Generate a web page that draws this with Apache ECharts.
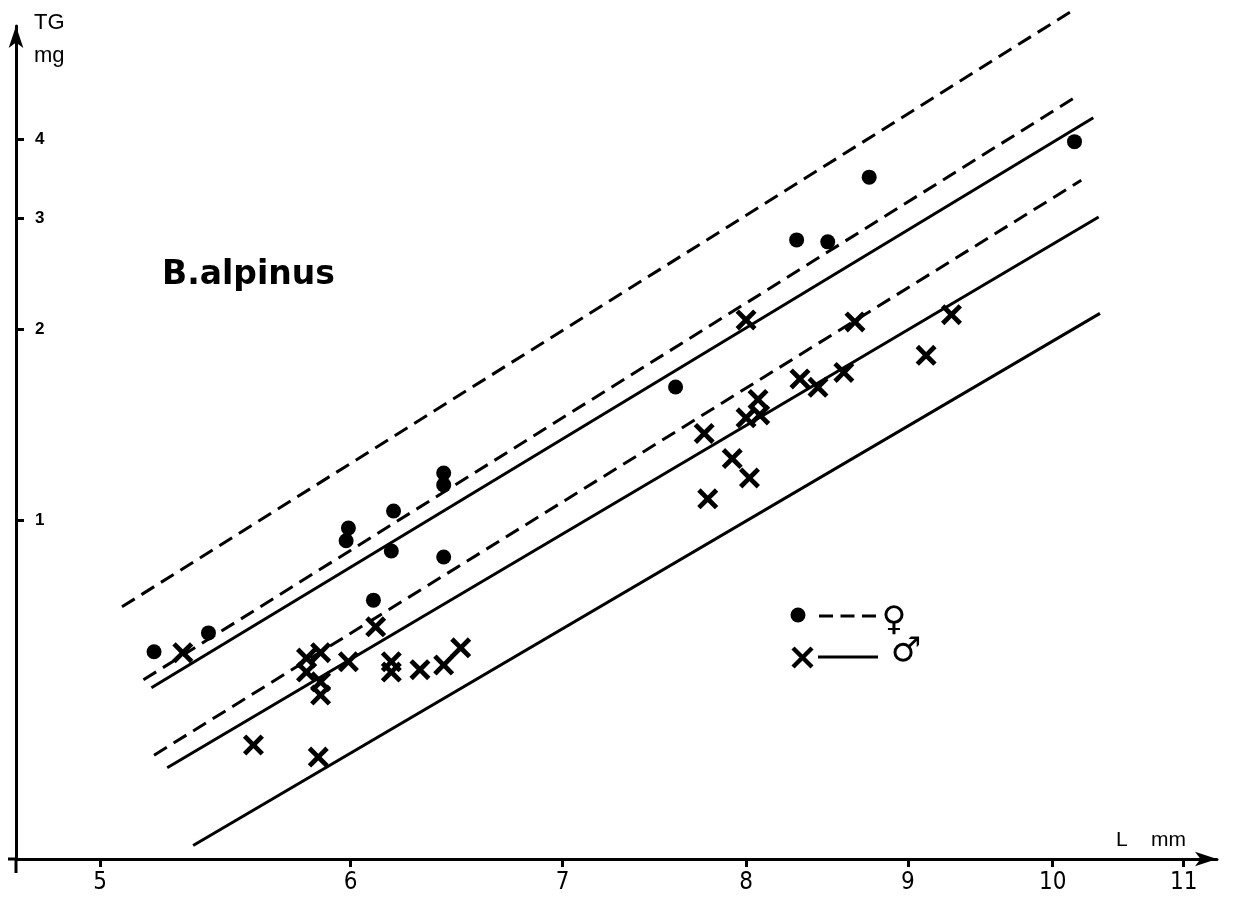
<!DOCTYPE html>
<html>
<head>
    <meta charset="utf-8">
    <title>B. alpinus TG vs L</title>
    <script src="https://cdn.jsdelivr.net/npm/echarts@6.0.0/dist/echarts.min.js"></script>
    <style>
        body { margin: 0; background: #fff; }
        #chart { width: 1235px; height: 904px; }
    </style>
</head>
<body>
    <div id="chart"></div>
    <script>
        // axis ticks (log-log paper)
        const xTicks = [5, 6, 7, 8, 9, 10, 11];
        const yTicks = [1, 2, 3, 4];
        const xRange = [4.703, 11.27];
        const yRange = [0.2913, 6.031];

        // females (dots)
        const femaleL  = [5.20, 5.41, 5.98, 5.99, 6.19, 6.18, 6.10, 6.42, 6.42, 6.42, 7.60, 8.30, 8.49, 8.75, 10.16];
        const femaleTG = [0.619, 0.663, 0.927, 0.971, 1.033, 0.893, 0.747, 1.186, 1.136, 0.874, 1.622, 2.77, 2.75, 3.48, 3.96];

        // males (crosses)
        const maleL  = [5.31, 5.81, 5.87, 5.81, 5.87, 5.87, 5.99, 6.11, 6.18, 6.18, 6.31, 6.42, 6.50, 5.59, 5.86,
                        8.00, 8.66, 9.29, 9.12, 8.59, 8.32, 8.43, 8.07, 8.08, 8.00, 7.76, 7.92, 8.02, 7.78];
        const maleTG = [0.617, 0.605, 0.617, 0.575, 0.555, 0.529, 0.597, 0.678, 0.597, 0.575, 0.580, 0.590, 0.628, 0.441, 0.422,
                        2.07, 2.055, 2.11, 1.82, 1.71, 1.67, 1.62, 1.55, 1.465, 1.45, 1.37, 1.25, 1.165, 1.08];

        // regression line + band ends, [start, end]
        const femaleLinesL  = [[5.08, 10.13], [5.16, 10.17], [5.20, 10.21]];
        const femaleLinesTG = [[0.729, 6.35], [0.559, 4.66], [0.425, 3.44]];
        const maleLinesL    = [[5.19, 10.30], [5.25, 10.34], [5.35, 10.35]];
        const maleLinesTG   = [[0.543, 4.32], [0.406, 3.01], [0.306, 2.12]];

        const lg = Math.log10;
        const pairs = (xs, ys) => xs.map((x, i) => [lg(x), lg(ys[i])]);
        const crossPath = 'path://M0,16 L16,0 L50,34 L84,0 L100,16 L66,50 L100,84 L84,100 L50,66 L16,100 L0,84 L34,50 Z';
        const tickText = v => String(Math.round(Math.pow(10, v)));

        const chart = echarts.init(document.getElementById('chart'));

        const series = [];
        femaleLinesL.forEach((xs, i) => {
            series.push({
                type: 'line', data: pairs(xs, femaleLinesTG[i]), symbol: 'none', clip: false,
                lineStyle: { color: '#000', width: 3, type: [15, 8] }, silent: true, z: 2
            });
        });
        maleLinesL.forEach((xs, i) => {
            series.push({
                type: 'line', data: pairs(xs, maleLinesTG[i]), symbol: 'none', clip: false,
                lineStyle: { color: '#000', width: 3 }, silent: true, z: 2
            });
        });
        series.push({
            name: '♀', type: 'scatter', data: pairs(femaleL, femaleTG),
            symbol: 'circle', symbolSize: 15, itemStyle: { color: '#000', opacity: 1 }, z: 3
        });
        series.push({
            name: '♂', type: 'scatter', data: pairs(maleL, maleTG),
            symbol: crossPath, symbolSize: 21, itemStyle: { color: '#000', opacity: 1 }, z: 3
        });

        chart.setOption({
            backgroundColor: '#fff',
            animation: false,
            title: {
                text: 'B.alpinus', left: 157, top: 254,
                textStyle: { fontFamily: 'DejaVu Sans', fontWeight: 'bold', fontSize: 33, color: '#000' }
            },
            grid: { left: 16, right: 18, top: 26, bottom: 45, containLabel: false, outerBoundsMode: 'none' },
            xAxis: {
                type: 'value', min: lg(xRange[0]), max: lg(xRange[1]),
                name: 'L    mm', nameLocation: 'end', nameGap: -31, nameMoveOverlap: false,
                nameTextStyle: { align: 'right', verticalAlign: 'bottom', fontSize: 21, color: '#000',
                                 fontFamily: 'Liberation Sans', padding: [0, 0, 8, 0] },
                axisLine: { show: true, onZero: false, symbol: ['none', 'arrow'], symbolSize: [11, 22],
                            lineStyle: { color: '#000', width: 3 } },
                axisTick: { show: true, customValues: xTicks.map(lg), length: 8, lineStyle: { color: '#000', width: 3 } },
                axisLabel: { customValues: xTicks.map(lg), formatter: tickText,
                             margin: 12, fontSize: 24, color: '#000',
                             fontFamily: "'Liberation Sans Narrow', 'DejaVu Sans Condensed', 'Liberation Sans', sans-serif" },
                splitLine: { show: false }
            },
            yAxis: {
                type: 'value', min: lg(yRange[0]), max: lg(yRange[1]),
                name: 'TG\nmg', nameLocation: 'end', nameGap: 20, nameMoveOverlap: false,
                nameTextStyle: { align: 'left', verticalAlign: 'top', fontSize: 22, lineHeight: 33, color: '#000',
                                 fontFamily: 'Liberation Sans', padding: [0, 0, 0, 18] },
                axisLine: { show: true, onZero: false, symbol: ['none', 'arrow'], symbolSize: [11, 22],
                            lineStyle: { color: '#000', width: 3 } },
                axisTick: { show: true, inside: true, customValues: yTicks.map(lg), length: 8,
                            lineStyle: { color: '#000', width: 3 } },
                axisLabel: { inside: true, customValues: yTicks.map(lg), formatter: tickText,
                             margin: 19, fontSize: 17, fontWeight: 'bold', color: '#000', fontFamily: 'Liberation Sans' },
                splitLine: { show: false }
            },
            graphic: [
                // axis stubs past the origin, as drawn on the paper
                { type: 'line', shape: { x1: 16, y1: 859, x2: 16, y2: 873 }, style: { stroke: '#000', lineWidth: 3 } },
                { type: 'line', shape: { x1: 8, y1: 859, x2: 16, y2: 859 }, style: { stroke: '#000', lineWidth: 3 } },
                // legend: dot + dashed = female, cross + solid = male
                { type: 'circle', shape: { cx: 798, cy: 615, r: 7.5 }, style: { fill: '#000' } },
                { type: 'line', shape: { x1: 819, y1: 616, x2: 876, y2: 616 },
                  style: { stroke: '#000', lineWidth: 3, lineDash: [14, 7.5] } },
                { type: 'text', x: 894, y: 621, style: { text: '♀', fill: '#000', fontSize: 34, fontWeight: 'bold',
                  fontFamily: 'DejaVu Sans', align: 'center', verticalAlign: 'middle' } },
                { type: 'line', shape: { x1: 793, y1: 648, x2: 812, y2: 667 }, style: { stroke: '#000', lineWidth: 4.5 } },
                { type: 'line', shape: { x1: 812, y1: 648, x2: 793, y2: 667 }, style: { stroke: '#000', lineWidth: 4.5 } },
                { type: 'line', shape: { x1: 818, y1: 657, x2: 878, y2: 657 }, style: { stroke: '#000', lineWidth: 3 } },
                { type: 'text', x: 906, y: 652, style: { text: '♂', fill: '#000', fontSize: 34, fontWeight: 'bold',
                  fontFamily: 'DejaVu Sans', align: 'center', verticalAlign: 'middle' } }
            ],
            series: series
        });
    </script>
</body>
</html>
